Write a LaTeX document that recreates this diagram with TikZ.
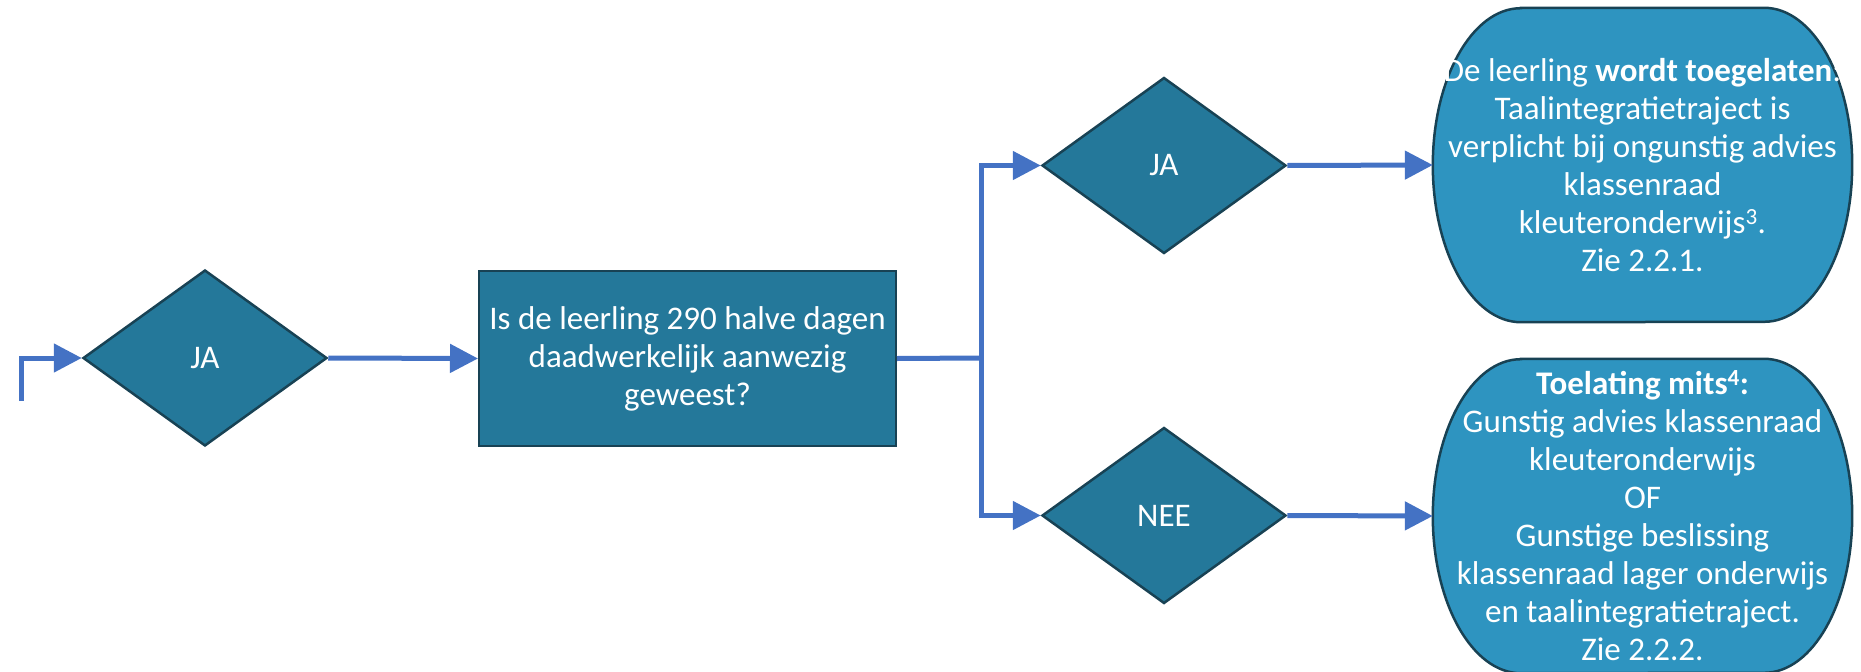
\documentclass[tikz,border=0pt]{standalone}
\usepackage{fontspec}
\setmainfont{Carlito}
\usetikzlibrary{shapes.geometric,arrows.meta,backgrounds}
\definecolor{boxfill}{RGB}{36,120,154}
\definecolor{capfill}{RGB}{46,148,192}
\definecolor{edgecol}{RGB}{24,66,84}
\definecolor{conn}{RGB}{68,114,196}
\begin{document}
\begin{tikzpicture}[x=1pt,y=1pt,
  txt/.style={text=white,font=\fontsize{33}{38}\selectfont,align=center},
  decision/.style={diamond,draw=edgecol,line width=2.5pt,fill=boxfill,minimum width=244pt,minimum height=176pt,inner sep=0pt,aspect=1.386,txt},
  process/.style={rectangle,draw=edgecol,line width=2pt,fill=boxfill,minimum width=417pt,minimum height=175pt,inner sep=0pt,txt},
  result/.style={rectangle,minimum width=419pt,minimum height=314pt,inner sep=0pt,txt},
  capsule/.style={draw=edgecol,line width=2.5pt,fill=capfill},
  conline/.style={draw=conn,line width=5pt},
  flow/.style={conline,-{Triangle[length=28pt,width=28pt]}}
]
\useasboundingbox (0,0) rectangle (1861,-672);
\node[decision] (d1) at (205,-358) {JA};
\node[process] (q) at (687.5,-358.5) {Is de leerling 290 halve dagen\\daadwerkelijk aanwezig\\geweest?};
\node[decision] (dja) at (1164,-165.5) {JA};
\node[decision] (dnee) at (1164,-515.5) {NEE};
\node[result] (r1) at (1642.5,-165) {De leerling \textbf{wordt toegelaten}:\\Taalintegratietraject is\\verplicht bij ongunstig advies\\klassenraad\\kleuteronderwijs\textsuperscript{3}.\\Zie 2.2.1.};
\node[result] (r2) at (1642.5,-516) {\textbf{Toelating mits\textsuperscript{4}:}\\Gunstig advies klassenraad\\kleuteronderwijs\\OF\\Gunstige beslissing\\klassenraad lager onderwijs\\en taalintegratietraject.\\Zie 2.2.2.};
\begin{scope}[on background layer]
\draw[capsule] ([xshift=88pt]r1.north west) -- ([xshift=-88pt]r1.north east)
  arc[start angle=90,end angle=-90,x radius=88pt,y radius=157pt]
  -- ([xshift=88pt]r1.south west)
  arc[start angle=270,end angle=90,x radius=88pt,y radius=157pt] -- cycle;
\draw[capsule] ([xshift=88pt]r2.north west) -- ([xshift=-88pt]r2.north east)
  arc[start angle=90,end angle=-90,x radius=88pt,y radius=157pt]
  -- ([xshift=88pt]r2.south west)
  arc[start angle=270,end angle=90,x radius=88pt,y radius=157pt] -- cycle;
\end{scope}
\coordinate (start) at (21,-401);
\coordinate (split) at (981,-358);
\draw[flow] (start) |- (d1.west);
\draw[flow] (d1.east) -- (q.west);
\draw[conline] (q.east) -- (split);
\draw[flow] (split) |- (dja.west);
\draw[flow] (split) |- (dnee.west);
\draw[flow] (dja.east) -- (r1.west);
\draw[flow] (dnee.east) -- (r2.west);
\end{tikzpicture}
\end{document}
